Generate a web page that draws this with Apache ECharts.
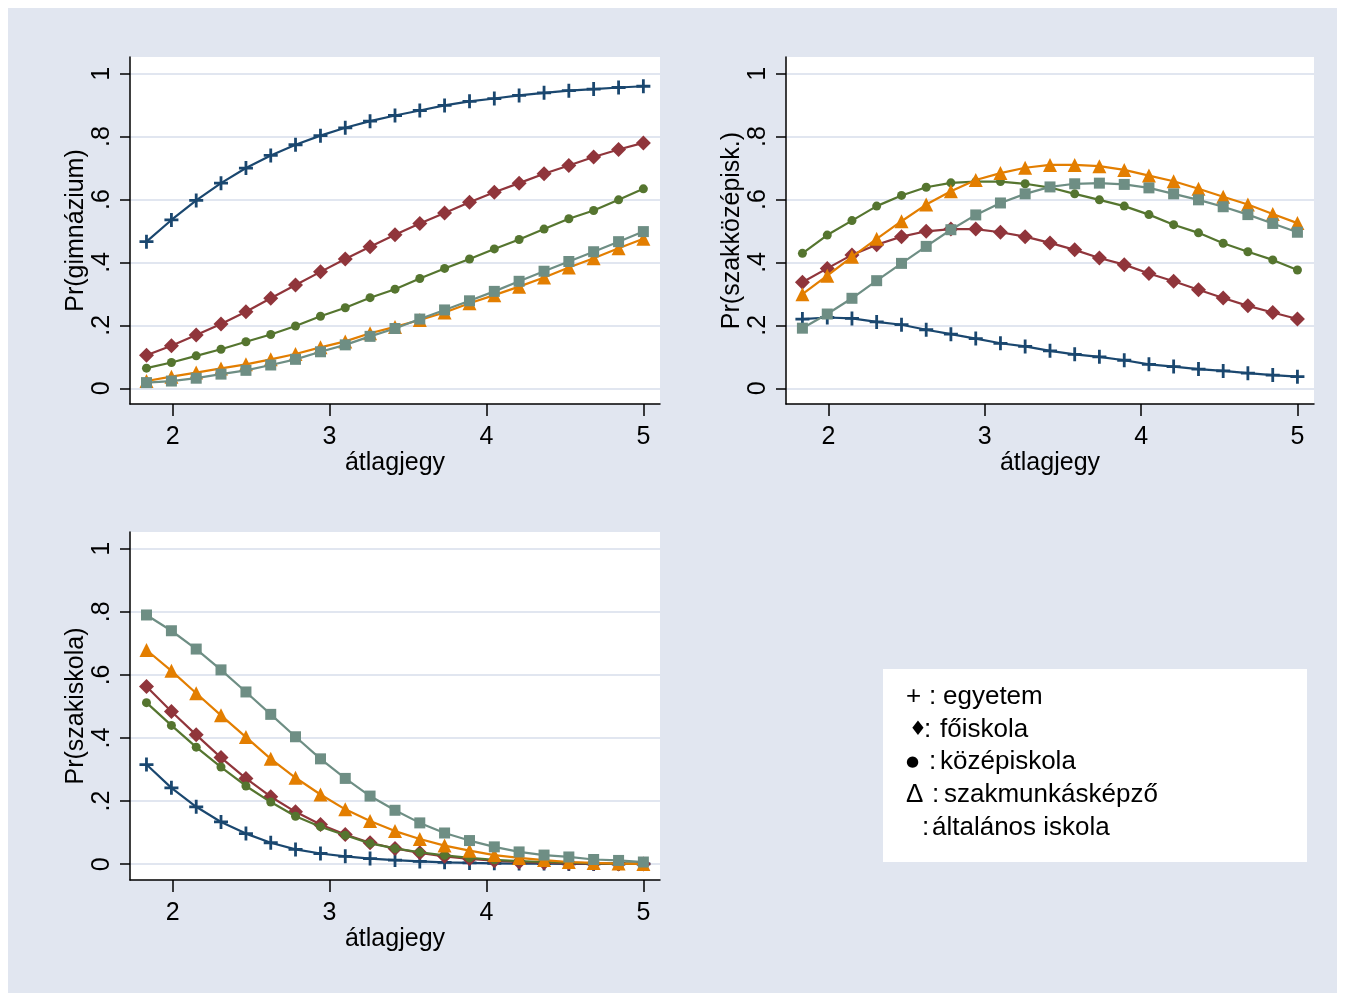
<!DOCTYPE html>
<html>
<head>
<meta charset="utf-8">
<script src="https://cdn.jsdelivr.net/npm/echarts@6/dist/echarts.min.js"></script>
<style>
  html, body { margin: 0; padding: 0; background: #ffffff; }
  #chart { position: absolute; left: 8px; top: 8px; width: 1329px; height: 985px; }
</style>
</head>
<body>
<div id="chart"></div>
<script>
// Grade average (átlagjegy) at which the predicted probabilities are evaluated
const atlagjegy = [1.833, 1.992, 2.150, 2.308, 2.467, 2.625, 2.783, 2.942, 3.100, 3.258, 3.417,
                   3.575, 3.733, 3.892, 4.050, 4.208, 4.367, 4.525, 4.683, 4.842, 5.000];

const xTicks = [2, 3, 4, 5];
const yTicks = [0, 0.2, 0.4, 0.6, 0.8, 1];
const yTickLabels = ['0', '.2', '.4', '.6', '.8', '1'];

// Pr(gimnázium) by parents' schooling
const gimEgyetem    = [0.466, 0.535, 0.597, 0.652, 0.700, 0.740, 0.774, 0.803, 0.828, 0.849, 0.867, 0.883, 0.899, 0.912, 0.921, 0.931, 0.939, 0.946, 0.951, 0.956, 0.960];
const gimFoiskola   = [0.105, 0.135, 0.169, 0.204, 0.243, 0.286, 0.328, 0.370, 0.411, 0.450, 0.488, 0.524, 0.557, 0.591, 0.623, 0.652, 0.682, 0.708, 0.735, 0.759, 0.780];
const gimKozep      = [0.064, 0.082, 0.103, 0.124, 0.148, 0.171, 0.198, 0.229, 0.256, 0.288, 0.315, 0.349, 0.381, 0.411, 0.443, 0.473, 0.506, 0.539, 0.565, 0.599, 0.634];
const gimSzakmunkas = [0.023, 0.037, 0.050, 0.063, 0.076, 0.092, 0.109, 0.130, 0.149, 0.175, 0.195, 0.217, 0.241, 0.270, 0.296, 0.323, 0.352, 0.384, 0.413, 0.445, 0.475];
const gimAltalanos  = [0.018, 0.023, 0.032, 0.045, 0.057, 0.074, 0.092, 0.116, 0.138, 0.165, 0.190, 0.220, 0.249, 0.278, 0.308, 0.340, 0.372, 0.403, 0.434, 0.466, 0.498];

// Pr(szakközépisk.)
const szkEgyetem    = [0.220, 0.225, 0.222, 0.211, 0.202, 0.186, 0.172, 0.158, 0.143, 0.133, 0.119, 0.108, 0.100, 0.089, 0.076, 0.069, 0.061, 0.055, 0.048, 0.042, 0.037];
const szkFoiskola   = [0.337, 0.381, 0.424, 0.456, 0.482, 0.499, 0.506, 0.506, 0.496, 0.482, 0.462, 0.440, 0.414, 0.393, 0.365, 0.340, 0.313, 0.287, 0.262, 0.241, 0.220];
const szkKozep      = [0.429, 0.487, 0.533, 0.579, 0.613, 0.639, 0.653, 0.657, 0.657, 0.650, 0.638, 0.618, 0.599, 0.579, 0.552, 0.520, 0.494, 0.461, 0.434, 0.408, 0.376];
const szkSzakmunkas = [0.299, 0.358, 0.418, 0.475, 0.531, 0.584, 0.626, 0.662, 0.684, 0.701, 0.710, 0.710, 0.706, 0.694, 0.676, 0.658, 0.634, 0.609, 0.584, 0.554, 0.525];
const szkAltalanos  = [0.191, 0.236, 0.286, 0.342, 0.397, 0.451, 0.504, 0.551, 0.589, 0.618, 0.640, 0.650, 0.652, 0.648, 0.637, 0.618, 0.599, 0.577, 0.552, 0.524, 0.496];

// Pr(szakiskola)
const szaEgyetem    = [0.316, 0.242, 0.182, 0.134, 0.097, 0.068, 0.047, 0.034, 0.025, 0.018, 0.013, 0.009, 0.006, 0.004, 0.003, 0.002, 0.002, 0.001, 0.001, 0.001, 0.001];
const szaFoiskola   = [0.563, 0.484, 0.410, 0.338, 0.272, 0.214, 0.166, 0.126, 0.094, 0.068, 0.050, 0.036, 0.025, 0.017, 0.011, 0.007, 0.005, 0.003, 0.002, 0.001, 0.001];
const szaKozep      = [0.512, 0.440, 0.371, 0.308, 0.248, 0.197, 0.152, 0.119, 0.092, 0.066, 0.050, 0.038, 0.028, 0.020, 0.014, 0.010, 0.007, 0.005, 0.003, 0.002, 0.002];
const szaSzakmunkas = [0.679, 0.613, 0.542, 0.472, 0.403, 0.334, 0.274, 0.221, 0.174, 0.137, 0.105, 0.080, 0.059, 0.043, 0.029, 0.020, 0.013, 0.007, 0.004, 0.002, 0.001];
const szaAltalanos  = [0.790, 0.740, 0.682, 0.616, 0.546, 0.475, 0.404, 0.334, 0.272, 0.216, 0.171, 0.131, 0.099, 0.075, 0.055, 0.039, 0.029, 0.023, 0.015, 0.012, 0.007];

const panelTitles = ['Pr(gimnázium)', 'Pr(szakközépisk.)', 'Pr(szakiskola)'];
const xTitle = 'átlagjegy';

// Key entries: marker glyph and its meaning
const legendSymbols = ['+', '♦', '●', 'Δ', ''];
const legendTexts = ['egyetem', 'főiskola', 'középiskola', 'szakmunkásképző', 'általános iskola'];

// Stata s2color-like palette and marker styles
const PLUS = 'path://M4,0h2v4h4v2h-4v4h-2v-4h-4v-2h4z';
const styles = [
  { color: '#1a476f', symbol: PLUS, size: 14 },
  { color: '#90353b', symbol: 'diamond', size: 15 },
  { color: '#55752f', symbol: 'circle', size: 9 },
  { color: '#e37e00', symbol: 'triangle', size: 14 },
  { color: '#6e8e84', symbol: 'rect', size: 11 }
];

const panels = [
  [gimEgyetem, gimFoiskola, gimKozep, gimSzakmunkas, gimAltalanos],
  [szkEgyetem, szkFoiskola, szkKozep, szkSzakmunkas, szkAltalanos],
  [szaEgyetem, szaFoiskola, szaKozep, szaSzakmunkas, szaAltalanos]
];

const FONT = '"Liberation Sans", Arial, sans-serif';
const BG = '#e1e6f0';

const grids = [
  { left: 122, top: 49, width: 530, height: 347 },
  { left: 778, top: 49, width: 528, height: 347 },
  { left: 122, top: 524, width: 530, height: 348 }
];

const xAxes = grids.map((g, i) => ({
  type: 'value', gridIndex: i, min: 1.728, max: 5.106,
  name: xTitle, nameLocation: 'middle', nameGap: 47,
  nameTextStyle: { fontFamily: FONT, fontSize: 25, color: '#000' },
  axisLine: { show: true, onZero: false, lineStyle: { color: '#000', width: 1.5 } },
  axisTick: { show: true, length: 12, customValues: xTicks, lineStyle: { color: '#000', width: 1.5 } },
  axisLabel: { customValues: xTicks, margin: 21, fontFamily: FONT, fontSize: 25, color: '#000' },
  splitLine: { show: false }
}));

const yAxes = grids.map((g, i) => ({
  type: 'value', gridIndex: i, min: -0.05, max: 1.053,
  name: panelTitles[i], nameLocation: 'middle', nameGap: 41, nameRotate: 90,
  nameTextStyle: { fontFamily: FONT, fontSize: 25, color: '#000' },
  axisLine: { show: true, onZero: false, lineStyle: { color: '#000', width: 1.5 } },
  axisTick: { show: true, length: 10, customValues: yTicks, lineStyle: { color: '#000', width: 1.5 } },
  axisLabel: {
    customValues: yTicks, rotate: 90, margin: 15, fontFamily: FONT, fontSize: 25, color: '#000',
    formatter: v => yTickLabels[yTicks.findIndex(t => Math.abs(t - v) < 1e-9)]
  },
  splitLine: { show: true, lineStyle: { color: BG, width: 2 } }
}));

const series = [];
panels.forEach((panel, p) => {
  panel.forEach((vals, s) => {
    const st = styles[s];
    series.push({
      type: 'line', xAxisIndex: p, yAxisIndex: p,
      data: atlagjegy.map((x, k) => [x, vals[k]]),
      symbol: st.symbol, symbolSize: st.size, showSymbol: true,
      lineStyle: { color: st.color, width: 2.2 },
      itemStyle: { color: st.color, borderWidth: 0 },
      z: 2 + s, animation: false, silent: true
    });
  });
});

// Key box with the marker glossary (positions inside the box)
const LEG_X = 875, LEG_Y = 661, LEG_W = 424, LEG_H = 193;
const rowY = [28, 61, 93, 126, 159];
const symX = [23, 26, 23, 23, 0];
const colonX = [46, 41, 46, 49, 39];
const textX = [60, 57, 57, 61, 49];
const symSize = [26, 20, 15, 26, 26];
const symFont = [FONT, 'DejaVu Sans', 'DejaVu Sans', FONT, FONT];

const legendChildren = [
  { type: 'rect', shape: { x: 0, y: 0, width: LEG_W, height: LEG_H }, style: { fill: '#fff' } }
];
legendTexts.forEach((t, i) => {
  if (legendSymbols[i]) {
    legendChildren.push({ type: 'text', x: symX[i], y: rowY[i],
      style: { text: legendSymbols[i], fontFamily: symFont[i], fontSize: symSize[i], fill: '#000', verticalAlign: 'middle' } });
  }
  legendChildren.push({ type: 'text', x: colonX[i], y: rowY[i],
    style: { text: ':', fontFamily: FONT, fontSize: 26, fill: '#000', verticalAlign: 'middle' } });
  legendChildren.push({ type: 'text', x: textX[i], y: rowY[i],
    style: { text: t, fontFamily: FONT, fontSize: 26, fill: '#000', verticalAlign: 'middle' } });
});

const chart = echarts.init(document.getElementById('chart'), null, { renderer: 'canvas' });
chart.setOption({
  backgroundColor: BG,
  animation: false,
  grid: grids.map(g => Object.assign({ show: true, backgroundColor: '#fff', borderWidth: 0, containLabel: false }, g)),
  xAxis: xAxes,
  yAxis: yAxes,
  series: series,
  graphic: [{ type: 'group', x: LEG_X, y: LEG_Y, children: legendChildren }]
});
</script>
</body>
</html>
